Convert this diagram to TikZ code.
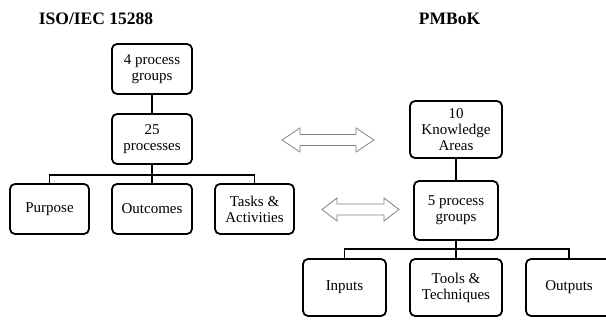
\documentclass[tikz,border=0pt]{standalone}
\usepackage{fontspec}
\setmainfont{Liberation Serif}
\begin{document}
\begin{tikzpicture}[x=1pt,y=-1pt,
  box/.style={draw=black,line width=1.8pt,rounded corners=5pt,align=center,inner sep=0pt,
    font=\fontsize{15}{16}\selectfont},
  conn/.style={line width=1.8pt},
  title/.style={font=\fontsize{17.5}{20}\selectfont\bfseries},
  dbl/.style={draw=black!50,line width=0.8pt,fill=white,line join=miter}]
\useasboundingbox (0,0) rectangle (606,320);
% titles
\node[title] (tl) at (96,19) {ISO/IEC 15288};
\node[title] (tr) at (449.5,19) {PMBoK};
% left tree
\node[box,minimum width=80pt,minimum height=50pt] (pg4) at (152,69) {4 process\\groups};
\node[box,minimum width=80pt,minimum height=50pt] (p25) at (152,139) {25\\processes};
\node[box,minimum width=79pt,minimum height=50pt] (purp) at (49.5,209) {Purpose};
\node[box,minimum width=80pt,minimum height=50pt] (outc) at (152,209) {Outcomes};
\node[box,minimum width=79pt,minimum height=50pt] (task) at (254.5,209) {Tasks \&\\Activities};
\draw[conn] (pg4) -- (p25);
\draw[conn] (p25.south) -- (outc.north);
\draw[conn] (p25.south) ++(0,10) -| (purp.north);
\draw[conn] (p25.south) ++(0,10) -| (task.north);
% right tree
\node[box,minimum width=92pt,minimum height=57pt] (ka) at (456,129.5) {10\\Knowledge\\Areas};
\node[box,minimum width=84pt,minimum height=59pt] (pg5) at (456,210.5) {5 process\\groups};
\node[box,minimum width=83pt,minimum height=57pt] (inp) at (344.5,287.5) {Inputs};
\node[box,minimum width=92pt,minimum height=57pt] (tool) at (456,287.5) {Tools \&\\Techniques};
\node[box,minimum width=86pt,minimum height=57pt,text width=80pt] (outp) at (569,287.5) {Outputs};
\draw[conn] (ka) -- (pg5);
\draw[conn] (pg5.south) -- (tool.north);
\draw[conn] (pg5.south) ++(0,8) -| (inp.north);
\draw[conn] (pg5.south) ++(0,8) -| (outp.north);
% double arrows
\draw[dbl] (282,140) -- (300,128) -- (300,134.5) -- (356,134.5) -- (356,128) -- (374,140)
  -- (356,152) -- (356,145.5) -- (300,145.5) -- (300,152) -- cycle;
\draw[dbl] (322,209.5) -- (337,198) -- (337,204) -- (384,204) -- (384,198) -- (399,209.5)
  -- (384,221) -- (384,215) -- (337,215) -- (337,221) -- cycle;
\end{tikzpicture}
\end{document}
